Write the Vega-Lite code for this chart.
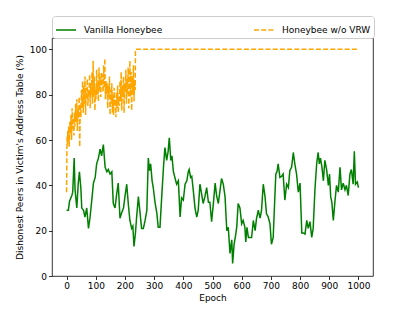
{
  "$schema": "https://vega.github.io/schema/vega-lite/v6.json",
  "width": 321,
  "height": 238,
  "autosize": {"type": "none"},
  "padding": {"left": 52, "top": 38, "right": 42, "bottom": 35},
  "background": "white",
  "config": {
    "font": "DejaVu Sans",
    "view": {"stroke": "#000000", "strokeWidth": 0.8},
    "axis": {
      "domain": false,
      "grid": false,
      "tickColor": "#000000",
      "tickSize": 3.5,
      "tickWidth": 0.8,
      "labelFontSize": 9,
      "labelColor": "#000000",
      "labelFont": "DejaVu Sans",
      "labelPadding": 2,
      "labelOverlap": false,
      "titleFontSize": 9,
      "titleColor": "#000000",
      "titleFont": "DejaVu Sans",
      "titleFontWeight": "normal"
    },
    "legend": {
      "orient": "none",
      "legendX": 0,
      "legendY": -22,
      "direction": "horizontal",
      "strokeColor": "#cccccc",
      "fillColor": "white",
      "cornerRadius": 3,
      "padding": 3,
      "columnPadding": 88,
      "labelFontSize": 9,
      "labelFont": "DejaVu Sans",
      "labelColor": "#000000",
      "labelOffset": 7,
      "symbolType": "stroke",
      "symbolSize": 400,
      "symbolStrokeWidth": 1.5,
      "symbolOffset": 0
    }
  },
  "data": {"values": [
      {"s":"Vanilla Honeybee","epoch":0,"value":29},{"s":"Vanilla Honeybee","epoch":6,"value":29},{"s":"Vanilla Honeybee","epoch":10,"value":33},{"s":"Vanilla Honeybee","epoch":18,"value":35.5},{"s":"Vanilla Honeybee","epoch":21,"value":37},{"s":"Vanilla Honeybee","epoch":26,"value":52},{"s":"Vanilla Honeybee","epoch":29,"value":38},{"s":"Vanilla Honeybee","epoch":35,"value":30},{"s":"Vanilla Honeybee","epoch":40,"value":41},{"s":"Vanilla Honeybee","epoch":44,"value":46},{"s":"Vanilla Honeybee","epoch":49,"value":38.5},{"s":"Vanilla Honeybee","epoch":52,"value":30},{"s":"Vanilla Honeybee","epoch":58,"value":29},{"s":"Vanilla Honeybee","epoch":63,"value":26},{"s":"Vanilla Honeybee","epoch":69,"value":30},{"s":"Vanilla Honeybee","epoch":75,"value":21},{"s":"Vanilla Honeybee","epoch":80,"value":25.5},{"s":"Vanilla Honeybee","epoch":86,"value":33},{"s":"Vanilla Honeybee","epoch":92,"value":41},{"s":"Vanilla Honeybee","epoch":98,"value":43.5},{"s":"Vanilla Honeybee","epoch":103,"value":49.5},{"s":"Vanilla Honeybee","epoch":109,"value":52},{"s":"Vanilla Honeybee","epoch":115,"value":56},{"s":"Vanilla Honeybee","epoch":120,"value":53},{"s":"Vanilla Honeybee","epoch":126,"value":58},{"s":"Vanilla Honeybee","epoch":132,"value":48},{"s":"Vanilla Honeybee","epoch":138,"value":46},{"s":"Vanilla Honeybee","epoch":143,"value":47},{"s":"Vanilla Honeybee","epoch":149,"value":45},{"s":"Vanilla Honeybee","epoch":155,"value":46},{"s":"Vanilla Honeybee","epoch":160,"value":32},{"s":"Vanilla Honeybee","epoch":166,"value":30},{"s":"Vanilla Honeybee","epoch":172,"value":36.5},{"s":"Vanilla Honeybee","epoch":177,"value":41},{"s":"Vanilla Honeybee","epoch":183,"value":25.5},{"s":"Vanilla Honeybee","epoch":189,"value":28},{"s":"Vanilla Honeybee","epoch":195,"value":30},{"s":"Vanilla Honeybee","epoch":200,"value":35},{"s":"Vanilla Honeybee","epoch":206,"value":40.5},{"s":"Vanilla Honeybee","epoch":212,"value":31},{"s":"Vanilla Honeybee","epoch":217,"value":24.5},{"s":"Vanilla Honeybee","epoch":223,"value":21},{"s":"Vanilla Honeybee","epoch":227,"value":22},{"s":"Vanilla Honeybee","epoch":231,"value":13},{"s":"Vanilla Honeybee","epoch":236,"value":19},{"s":"Vanilla Honeybee","epoch":240,"value":26},{"s":"Vanilla Honeybee","epoch":246,"value":35},{"s":"Vanilla Honeybee","epoch":252,"value":27.5},{"s":"Vanilla Honeybee","epoch":257,"value":21},{"s":"Vanilla Honeybee","epoch":263,"value":21},{"s":"Vanilla Honeybee","epoch":269,"value":24.5},{"s":"Vanilla Honeybee","epoch":275,"value":29},{"s":"Vanilla Honeybee","epoch":280,"value":52},{"s":"Vanilla Honeybee","epoch":284,"value":46.5},{"s":"Vanilla Honeybee","epoch":288,"value":49.5},{"s":"Vanilla Honeybee","epoch":293,"value":42},{"s":"Vanilla Honeybee","epoch":297,"value":39},{"s":"Vanilla Honeybee","epoch":303,"value":32.5},{"s":"Vanilla Honeybee","epoch":309,"value":28},{"s":"Vanilla Honeybee","epoch":314,"value":21.5},{"s":"Vanilla Honeybee","epoch":320,"value":21.5},{"s":"Vanilla Honeybee","epoch":326,"value":35},{"s":"Vanilla Honeybee","epoch":332,"value":48},{"s":"Vanilla Honeybee","epoch":337,"value":56.7},{"s":"Vanilla Honeybee","epoch":343,"value":51},{"s":"Vanilla Honeybee","epoch":348,"value":55},{"s":"Vanilla Honeybee","epoch":352,"value":61},{"s":"Vanilla Honeybee","epoch":357,"value":51},{"s":"Vanilla Honeybee","epoch":361,"value":53},{"s":"Vanilla Honeybee","epoch":366,"value":46},{"s":"Vanilla Honeybee","epoch":372,"value":43},{"s":"Vanilla Honeybee","epoch":377,"value":40.5},{"s":"Vanilla Honeybee","epoch":383,"value":42},{"s":"Vanilla Honeybee","epoch":389,"value":26},{"s":"Vanilla Honeybee","epoch":394,"value":34.5},{"s":"Vanilla Honeybee","epoch":400,"value":33.5},{"s":"Vanilla Honeybee","epoch":406,"value":40.5},{"s":"Vanilla Honeybee","epoch":412,"value":42},{"s":"Vanilla Honeybee","epoch":417,"value":46},{"s":"Vanilla Honeybee","epoch":420,"value":47},{"s":"Vanilla Honeybee","epoch":425,"value":43.5},{"s":"Vanilla Honeybee","epoch":429,"value":44},{"s":"Vanilla Honeybee","epoch":434,"value":38},{"s":"Vanilla Honeybee","epoch":440,"value":30},{"s":"Vanilla Honeybee","epoch":446,"value":26},{"s":"Vanilla Honeybee","epoch":451,"value":29},{"s":"Vanilla Honeybee","epoch":457,"value":40.5},{"s":"Vanilla Honeybee","epoch":463,"value":36},{"s":"Vanilla Honeybee","epoch":468,"value":32},{"s":"Vanilla Honeybee","epoch":474,"value":35},{"s":"Vanilla Honeybee","epoch":480,"value":39},{"s":"Vanilla Honeybee","epoch":486,"value":32.5},{"s":"Vanilla Honeybee","epoch":491,"value":32.5},{"s":"Vanilla Honeybee","epoch":497,"value":24},{"s":"Vanilla Honeybee","epoch":503,"value":32},{"s":"Vanilla Honeybee","epoch":509,"value":41},{"s":"Vanilla Honeybee","epoch":514,"value":35.5},{"s":"Vanilla Honeybee","epoch":520,"value":32},{"s":"Vanilla Honeybee","epoch":526,"value":38},{"s":"Vanilla Honeybee","epoch":531,"value":43},{"s":"Vanilla Honeybee","epoch":537,"value":40.5},{"s":"Vanilla Honeybee","epoch":543,"value":35},{"s":"Vanilla Honeybee","epoch":549,"value":20},{"s":"Vanilla Honeybee","epoch":554,"value":21.5},{"s":"Vanilla Honeybee","epoch":560,"value":10},{"s":"Vanilla Honeybee","epoch":566,"value":16},{"s":"Vanilla Honeybee","epoch":569,"value":5.5},{"s":"Vanilla Honeybee","epoch":574,"value":14},{"s":"Vanilla Honeybee","epoch":578,"value":17},{"s":"Vanilla Honeybee","epoch":583,"value":21.5},{"s":"Vanilla Honeybee","epoch":588,"value":32},{"s":"Vanilla Honeybee","epoch":594,"value":30},{"s":"Vanilla Honeybee","epoch":600,"value":23},{"s":"Vanilla Honeybee","epoch":605,"value":24.5},{"s":"Vanilla Honeybee","epoch":611,"value":21.5},{"s":"Vanilla Honeybee","epoch":614,"value":15},{"s":"Vanilla Honeybee","epoch":618,"value":21.5},{"s":"Vanilla Honeybee","epoch":623,"value":17},{"s":"Vanilla Honeybee","epoch":628,"value":17},{"s":"Vanilla Honeybee","epoch":634,"value":17},{"s":"Vanilla Honeybee","epoch":640,"value":24.5},{"s":"Vanilla Honeybee","epoch":646,"value":20},{"s":"Vanilla Honeybee","epoch":651,"value":25.5},{"s":"Vanilla Honeybee","epoch":657,"value":29},{"s":"Vanilla Honeybee","epoch":663,"value":25.5},{"s":"Vanilla Honeybee","epoch":668,"value":29},{"s":"Vanilla Honeybee","epoch":674,"value":40.5},{"s":"Vanilla Honeybee","epoch":680,"value":35},{"s":"Vanilla Honeybee","epoch":685,"value":27.5},{"s":"Vanilla Honeybee","epoch":691,"value":26},{"s":"Vanilla Honeybee","epoch":697,"value":23},{"s":"Vanilla Honeybee","epoch":702,"value":14},{"s":"Vanilla Honeybee","epoch":708,"value":17},{"s":"Vanilla Honeybee","epoch":714,"value":36},{"s":"Vanilla Honeybee","epoch":717,"value":45},{"s":"Vanilla Honeybee","epoch":721,"value":46},{"s":"Vanilla Honeybee","epoch":725,"value":49.5},{"s":"Vanilla Honeybee","epoch":731,"value":43.5},{"s":"Vanilla Honeybee","epoch":737,"value":44},{"s":"Vanilla Honeybee","epoch":742,"value":45},{"s":"Vanilla Honeybee","epoch":748,"value":33.5},{"s":"Vanilla Honeybee","epoch":754,"value":40.5},{"s":"Vanilla Honeybee","epoch":760,"value":39},{"s":"Vanilla Honeybee","epoch":765,"value":46.5},{"s":"Vanilla Honeybee","epoch":771,"value":48},{"s":"Vanilla Honeybee","epoch":777,"value":54.5},{"s":"Vanilla Honeybee","epoch":782,"value":49.5},{"s":"Vanilla Honeybee","epoch":788,"value":45},{"s":"Vanilla Honeybee","epoch":794,"value":37},{"s":"Vanilla Honeybee","epoch":800,"value":41},{"s":"Vanilla Honeybee","epoch":806,"value":19},{"s":"Vanilla Honeybee","epoch":811,"value":19},{"s":"Vanilla Honeybee","epoch":817,"value":18.5},{"s":"Vanilla Honeybee","epoch":823,"value":24.5},{"s":"Vanilla Honeybee","epoch":828,"value":21},{"s":"Vanilla Honeybee","epoch":834,"value":24},{"s":"Vanilla Honeybee","epoch":840,"value":17},{"s":"Vanilla Honeybee","epoch":845,"value":21},{"s":"Vanilla Honeybee","epoch":851,"value":38},{"s":"Vanilla Honeybee","epoch":857,"value":49.5},{"s":"Vanilla Honeybee","epoch":862,"value":54.5},{"s":"Vanilla Honeybee","epoch":866,"value":49.5},{"s":"Vanilla Honeybee","epoch":870,"value":52},{"s":"Vanilla Honeybee","epoch":875,"value":48},{"s":"Vanilla Honeybee","epoch":880,"value":42},{"s":"Vanilla Honeybee","epoch":885,"value":51},{"s":"Vanilla Honeybee","epoch":891,"value":47},{"s":"Vanilla Honeybee","epoch":897,"value":40},{"s":"Vanilla Honeybee","epoch":901,"value":45},{"s":"Vanilla Honeybee","epoch":905,"value":35},{"s":"Vanilla Honeybee","epoch":909,"value":32.5},{"s":"Vanilla Honeybee","epoch":914,"value":24.5},{"s":"Vanilla Honeybee","epoch":920,"value":33.5},{"s":"Vanilla Honeybee","epoch":925,"value":40},{"s":"Vanilla Honeybee","epoch":931,"value":37},{"s":"Vanilla Honeybee","epoch":937,"value":48},{"s":"Vanilla Honeybee","epoch":942,"value":38},{"s":"Vanilla Honeybee","epoch":948,"value":41},{"s":"Vanilla Honeybee","epoch":954,"value":38},{"s":"Vanilla Honeybee","epoch":959,"value":40},{"s":"Vanilla Honeybee","epoch":965,"value":35.5},{"s":"Vanilla Honeybee","epoch":971,"value":45},{"s":"Vanilla Honeybee","epoch":976,"value":47},{"s":"Vanilla Honeybee","epoch":982,"value":40.5},{"s":"Vanilla Honeybee","epoch":986,"value":55},{"s":"Vanilla Honeybee","epoch":990,"value":40.5},{"s":"Vanilla Honeybee","epoch":996,"value":41.5},{"s":"Vanilla Honeybee","epoch":1000,"value":39},
      {"s":"Honeybee w/o VRW","epoch":0,"value":37},{"s":"Honeybee w/o VRW","epoch":1,"value":55},{"s":"Honeybee w/o VRW","epoch":2,"value":62},{"s":"Honeybee w/o VRW","epoch":3,"value":58},{"s":"Honeybee w/o VRW","epoch":4,"value":64},{"s":"Honeybee w/o VRW","epoch":5,"value":60},{"s":"Honeybee w/o VRW","epoch":7,"value":66},{"s":"Honeybee w/o VRW","epoch":9,"value":57},{"s":"Honeybee w/o VRW","epoch":11,"value":68},{"s":"Honeybee w/o VRW","epoch":13,"value":63},{"s":"Honeybee w/o VRW","epoch":15,"value":71},{"s":"Honeybee w/o VRW","epoch":17,"value":60},{"s":"Honeybee w/o VRW","epoch":19,"value":74},{"s":"Honeybee w/o VRW","epoch":21,"value":65},{"s":"Honeybee w/o VRW","epoch":23,"value":70},{"s":"Honeybee w/o VRW","epoch":25,"value":62},{"s":"Honeybee w/o VRW","epoch":27,"value":72},{"s":"Honeybee w/o VRW","epoch":29,"value":66},{"s":"Honeybee w/o VRW","epoch":31,"value":76},{"s":"Honeybee w/o VRW","epoch":33,"value":68},{"s":"Honeybee w/o VRW","epoch":35,"value":78},{"s":"Honeybee w/o VRW","epoch":37,"value":64},{"s":"Honeybee w/o VRW","epoch":39,"value":74},{"s":"Honeybee w/o VRW","epoch":41,"value":70},{"s":"Honeybee w/o VRW","epoch":43,"value":79},{"s":"Honeybee w/o VRW","epoch":45,"value":57},{"s":"Honeybee w/o VRW","epoch":47,"value":76},{"s":"Honeybee w/o VRW","epoch":49,"value":70},{"s":"Honeybee w/o VRW","epoch":51,"value":82},{"s":"Honeybee w/o VRW","epoch":53,"value":74},{"s":"Honeybee w/o VRW","epoch":55,"value":86},{"s":"Honeybee w/o VRW","epoch":57,"value":72},{"s":"Honeybee w/o VRW","epoch":59,"value":84},{"s":"Honeybee w/o VRW","epoch":61,"value":76},{"s":"Honeybee w/o VRW","epoch":63,"value":88},{"s":"Honeybee w/o VRW","epoch":65,"value":71},{"s":"Honeybee w/o VRW","epoch":67,"value":83},{"s":"Honeybee w/o VRW","epoch":69,"value":78},{"s":"Honeybee w/o VRW","epoch":71,"value":87},{"s":"Honeybee w/o VRW","epoch":73,"value":75},{"s":"Honeybee w/o VRW","epoch":75,"value":82},{"s":"Honeybee w/o VRW","epoch":77,"value":79},{"s":"Honeybee w/o VRW","epoch":79,"value":89},{"s":"Honeybee w/o VRW","epoch":81,"value":74},{"s":"Honeybee w/o VRW","epoch":83,"value":85},{"s":"Honeybee w/o VRW","epoch":85,"value":80},{"s":"Honeybee w/o VRW","epoch":87,"value":90},{"s":"Honeybee w/o VRW","epoch":89,"value":76},{"s":"Honeybee w/o VRW","epoch":91,"value":95},{"s":"Honeybee w/o VRW","epoch":93,"value":79},{"s":"Honeybee w/o VRW","epoch":95,"value":88},{"s":"Honeybee w/o VRW","epoch":97,"value":73},{"s":"Honeybee w/o VRW","epoch":99,"value":83},{"s":"Honeybee w/o VRW","epoch":101,"value":78},{"s":"Honeybee w/o VRW","epoch":103,"value":91},{"s":"Honeybee w/o VRW","epoch":105,"value":80},{"s":"Honeybee w/o VRW","epoch":107,"value":86},{"s":"Honeybee w/o VRW","epoch":109,"value":77},{"s":"Honeybee w/o VRW","epoch":111,"value":92},{"s":"Honeybee w/o VRW","epoch":113,"value":82},{"s":"Honeybee w/o VRW","epoch":115,"value":88},{"s":"Honeybee w/o VRW","epoch":117,"value":79},{"s":"Honeybee w/o VRW","epoch":119,"value":90},{"s":"Honeybee w/o VRW","epoch":121,"value":84},{"s":"Honeybee w/o VRW","epoch":123,"value":89},{"s":"Honeybee w/o VRW","epoch":125,"value":81},{"s":"Honeybee w/o VRW","epoch":127,"value":93},{"s":"Honeybee w/o VRW","epoch":129,"value":83},{"s":"Honeybee w/o VRW","epoch":131,"value":96},{"s":"Honeybee w/o VRW","epoch":133,"value":78},{"s":"Honeybee w/o VRW","epoch":135,"value":86},{"s":"Honeybee w/o VRW","epoch":137,"value":80},{"s":"Honeybee w/o VRW","epoch":139,"value":85},{"s":"Honeybee w/o VRW","epoch":141,"value":74},{"s":"Honeybee w/o VRW","epoch":143,"value":84},{"s":"Honeybee w/o VRW","epoch":145,"value":79},{"s":"Honeybee w/o VRW","epoch":147,"value":88},{"s":"Honeybee w/o VRW","epoch":149,"value":71},{"s":"Honeybee w/o VRW","epoch":151,"value":82},{"s":"Honeybee w/o VRW","epoch":153,"value":76},{"s":"Honeybee w/o VRW","epoch":155,"value":85},{"s":"Honeybee w/o VRW","epoch":157,"value":72},{"s":"Honeybee w/o VRW","epoch":159,"value":80},{"s":"Honeybee w/o VRW","epoch":161,"value":71},{"s":"Honeybee w/o VRW","epoch":163,"value":83},{"s":"Honeybee w/o VRW","epoch":165,"value":75},{"s":"Honeybee w/o VRW","epoch":167,"value":78},{"s":"Honeybee w/o VRW","epoch":169,"value":70},{"s":"Honeybee w/o VRW","epoch":171,"value":81},{"s":"Honeybee w/o VRW","epoch":173,"value":74},{"s":"Honeybee w/o VRW","epoch":175,"value":84},{"s":"Honeybee w/o VRW","epoch":177,"value":72},{"s":"Honeybee w/o VRW","epoch":179,"value":79},{"s":"Honeybee w/o VRW","epoch":181,"value":75},{"s":"Honeybee w/o VRW","epoch":183,"value":86},{"s":"Honeybee w/o VRW","epoch":185,"value":77},{"s":"Honeybee w/o VRW","epoch":187,"value":90},{"s":"Honeybee w/o VRW","epoch":189,"value":73},{"s":"Honeybee w/o VRW","epoch":191,"value":84},{"s":"Honeybee w/o VRW","epoch":193,"value":79},{"s":"Honeybee w/o VRW","epoch":195,"value":88},{"s":"Honeybee w/o VRW","epoch":197,"value":72},{"s":"Honeybee w/o VRW","epoch":199,"value":85},{"s":"Honeybee w/o VRW","epoch":201,"value":81},{"s":"Honeybee w/o VRW","epoch":203,"value":91},{"s":"Honeybee w/o VRW","epoch":205,"value":76},{"s":"Honeybee w/o VRW","epoch":207,"value":87},{"s":"Honeybee w/o VRW","epoch":209,"value":80},{"s":"Honeybee w/o VRW","epoch":211,"value":92},{"s":"Honeybee w/o VRW","epoch":213,"value":74},{"s":"Honeybee w/o VRW","epoch":215,"value":86},{"s":"Honeybee w/o VRW","epoch":217,"value":95},{"s":"Honeybee w/o VRW","epoch":219,"value":79},{"s":"Honeybee w/o VRW","epoch":221,"value":90},{"s":"Honeybee w/o VRW","epoch":223,"value":73},{"s":"Honeybee w/o VRW","epoch":225,"value":88},{"s":"Honeybee w/o VRW","epoch":227,"value":80},{"s":"Honeybee w/o VRW","epoch":229,"value":93},{"s":"Honeybee w/o VRW","epoch":231,"value":77},{"s":"Honeybee w/o VRW","epoch":233,"value":86},{"s":"Honeybee w/o VRW","epoch":235,"value":82},{"s":"Honeybee w/o VRW","epoch":236,"value":100},{"s":"Honeybee w/o VRW","epoch":1000,"value":100}
  ]},
  "mark": {"type": "line", "strokeWidth": 1.5, "interpolate": "linear"},
  "encoding": {
    "x": {"field": "epoch", "type": "quantitative", "scale": {"domain": [-50, 1050], "nice": false, "zero": false}, "axis": {"values": [0,100,200,300,400,500,600,700,800,900,1000], "format": "d", "title": "Epoch", "titlePadding": 3}},
    "y": {"field": "value", "type": "quantitative", "scale": {"domain": [0, 105], "nice": false}, "axis": {"values": [0,20,40,60,80,100], "title": "Dishonest Peers in Victim's Address Table (%)", "titlePadding": 5}},
    "color": {"field": "s", "type": "nominal", "scale": {"domain": ["Vanilla Honeybee", "Honeybee w/o VRW"], "range": ["#008000", "#FFA500"]}, "legend": {"title": null}},
    "strokeDash": {"field": "s", "type": "nominal", "scale": {"domain": ["Vanilla Honeybee", "Honeybee w/o VRW"], "range": [[1, 0], [5, 2.2]]}, "legend": {"title": null}},
    "order": {"field": "epoch", "type": "quantitative"}
  }
}
